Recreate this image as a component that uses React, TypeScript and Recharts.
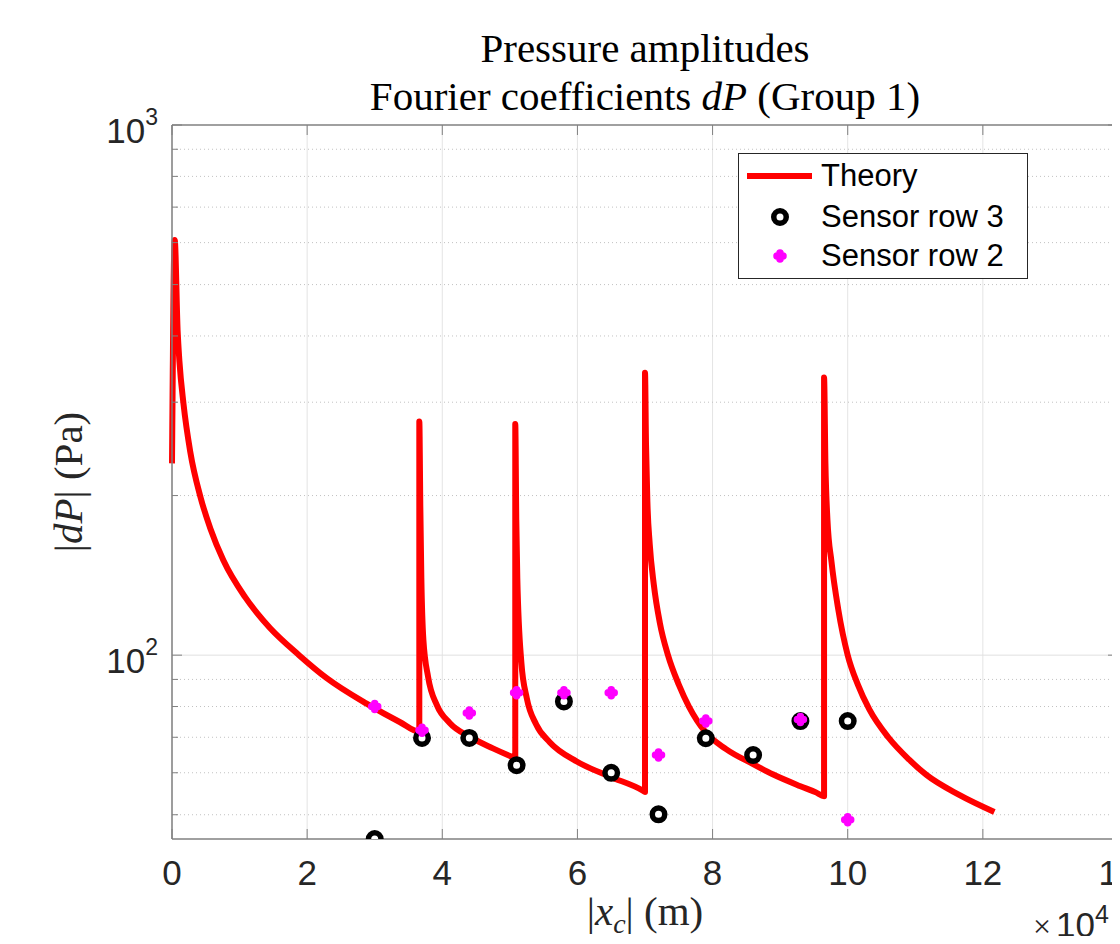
import React from "react";
import { ComposedChart, Line, Scatter, XAxis, YAxis, CartesianGrid, ReferenceLine, Legend } from "recharts";

// theory curve, x in units of 1e4 m (a repeated x is a vertical jump)
const theoryX = [
  0, 0.04, 0.083, 0.11, 0.17, 0.27, 0.42, 0.57, 0.76, 1.08, 1.26, 1.45, 1.88, 2.29, 2.88, 3.37, 3.66,
  3.66, 3.675, 3.69, 3.72, 3.79, 3.92, 4.11, 4.41, 4.75, 5.03, 5.08,
  5.08, 5.095, 5.11, 5.17, 5.25, 5.39, 5.59, 5.99, 6.48, 6.97, 7.0,
  7.0, 7.015, 7.035, 7.07, 7.13, 7.22, 7.34, 7.5, 7.65, 7.9, 8.2, 8.6, 8.89, 9.3, 9.53, 9.65,
  9.65, 9.67, 9.7, 9.76, 9.86, 10.0, 10.15, 10.32, 10.6, 10.91, 11.16, 11.65, 12.17,
];
const theoryP = [
  230, 607, 410, 358, 298, 242, 199, 173, 151, 128.8, 120, 112.5, 100, 90.5, 81, 74.8, 71.7,
  276, 190, 140, 107, 91, 80.5, 74.5, 70.1, 66.7, 64.3, 63.9,
  273, 180, 140, 97, 83, 74, 68.5, 63, 59, 55.5, 55.2,
  341, 250, 195, 162, 136, 115, 100, 88, 80, 71.5, 66.5, 62.3, 59.6, 56.6, 55.1, 54.2,
  334, 230, 180, 150, 122, 100, 88, 79, 70, 63.5, 59.5, 54.5, 50.6,
];

const row3X = [3.0, 3.7, 4.4, 5.1, 5.8, 6.5, 7.2, 7.9, 8.6, 9.3, 10.0];
const row3P = [45, 69.8, 69.8, 62, 81.8, 60, 50.1, 69.7, 64.8, 75.1, 75.1];

const row2X = [3.0, 3.7, 4.4, 5.1, 5.8, 6.5, 7.2, 7.9, 9.3, 10.0];
const row2P = [80, 72.2, 77.8, 84.9, 84.9, 84.9, 64.8, 75.1, 75.6, 48.9];

const xTicks = [0, 2, 4, 6, 8, 10, 12, 14];
const yMajor = [100, 1000];
const yMinor = [50, 60, 70, 80, 90, 200, 300, 400, 500, 600, 700, 800, 900];
const yTicks = [...yMinor.slice(0, 5), 100, ...yMinor.slice(5), 1000];

const legendNames = ["Theory", "Sensor row 3", "Sensor row 2"];

const theoryData = theoryX.map((x, i) => ({ x, v: theoryP[i] }));
const row3Data = row3X.map((x, i) => ({ x, v: row3P[i] }));
const row2Data = row2X.map((x, i) => ({ x, v: row2P[i] }));

const W = 1120;
const H = 944;
const M = { top: 125, right: 2, bottom: 0, left: 0 };
const Y_W = 172;
const X_H = 105;
const PLOT_W = W - M.left - M.right - Y_W;
const PLOT_H = H - M.top - M.bottom - X_H;

const SANS = "'Liberation Sans', Arial, Helvetica, sans-serif";
const SERIF = "'Liberation Serif', 'Times New Roman', serif";
const AXIS = "#808080";
const RED = "#ff0000";
const MAGENTA = "#ff00ff";

function Ring({ cx, cy }: any) {
  return <circle cx={cx} cy={cy} r={6.25} fill="#fff" stroke="#000" strokeWidth={5.5} />;
}

function Plus({ cx, cy }: any) {
  return (
    <path
      d={`M${cx - 3},${cy}H${cx + 3}M${cx},${cy - 3}V${cy + 3}`}
      stroke={MAGENTA}
      strokeWidth={7.5}
      strokeLinecap="round"
      fill="none"
    />
  );
}

function YTick({ x, y, payload }: any) {
  const v = payload.value;
  const major = yMajor.includes(v);
  const len = major ? 10 : 6;
  return (
    <g>
      <line x1={x} y1={y} x2={x + len} y2={y} stroke={AXIS} />
      <line x1={x + PLOT_W - len} y1={y} x2={x + PLOT_W} y2={y} stroke={AXIS} />
      {major && (
        <text x={x - 14} y={y + 18} textAnchor="end" fontFamily={SANS} fontSize={35} fill="#262626">
          10
          <tspan dy={-18} fontSize={23}>
            {Math.round(Math.log10(v))}
          </tspan>
        </text>
      )}
    </g>
  );
}

function XTick({ x, y, payload }: any) {
  return (
    <g>
      <line x1={x} y1={y} x2={x} y2={y - 10} stroke={AXIS} />
      <line x1={x} y1={y - PLOT_H} x2={x} y2={y - PLOT_H + 10} stroke={AXIS} />
      <text x={x} y={y + 46} textAnchor="middle" fontFamily={SANS} fontSize={35} fill="#262626">
        {payload.value}
      </text>
    </g>
  );
}

function XTitle(props: any) {
  const vb = props.viewBox || { x: Y_W, y: M.top + PLOT_H, width: PLOT_W };
  const cx = vb.x + vb.width / 2;
  return (
    <g>
      <text x={cx} y={vb.y + 86} textAnchor="middle" fontFamily={SERIF} fontSize={41} fill="#262626">
        |<tspan fontStyle="italic">x</tspan>
        <tspan fontStyle="italic" fontSize={28} dy={8}>c</tspan>
        <tspan dy={-8}>| (m)</tspan>
      </text>
      <text x={1033} y={vb.y + 98} fontFamily={SANS} fontSize={35} fill="#262626">
        <tspan fontFamily={SERIF} fontSize={32}>×</tspan>
        <tspan dx={5}>10</tspan>
        <tspan dy={-14} fontSize={25}>4</tspan>
      </text>
    </g>
  );
}

function YTitle(props: any) {
  const vb = props.viewBox || { x: 0, y: M.top, height: PLOT_H };
  const cx = vb.x + 68;
  const cy = vb.y + vb.height / 2;
  return (
    <text
      x={cx}
      y={cy}
      transform={`rotate(-90 ${cx} ${cy})`}
      textAnchor="middle"
      dominantBaseline="central"
      fontFamily={SERIF}
      fontSize={41}
      fill="#262626"
    >
      |<tspan fontStyle="italic">dP</tspan>| (Pa)
    </text>
  );
}

function LegendBox() {
  const rowTop = [2, 43, 82];
  return (
    <div
      style={{
        position: "relative",
        width: 288,
        height: 124,
        border: "1px solid #262626",
        background: "#fff",
        fontFamily: SANS,
        fontSize: 31,
        color: "#000",
      }}
    >
      {legendNames.map((name, i) => (
        <div key={name} style={{ position: "absolute", left: 0, top: rowTop[i], height: 40, width: 288 }}>
          <svg width={80} height={40} style={{ position: "absolute", left: 0, top: 0 }}>
            {i === 0 && <line x1={8} y1={20} x2={73} y2={20} stroke={RED} strokeWidth={6} />}
            {i === 1 && <Ring cx={41} cy={20} />}
            {i === 2 && <Plus cx={41} cy={20} />}
          </svg>
          <span style={{ position: "absolute", left: 82, top: 1, lineHeight: "38px", whiteSpace: "nowrap" }}>{name}</span>
        </div>
      ))}
    </div>
  );
}

export default function App() {
  return (
    <div style={{ position: "relative", width: W, height: H, margin: -8, background: "#fff", overflow: "hidden" }}>
      <svg width={W} height={120} style={{ position: "absolute", left: 0, top: 0, pointerEvents: "none" }}>
        <text x={Y_W + PLOT_W / 2} y={62} textAnchor="middle" fontFamily={SERIF} fontSize={41} fill="#000">
          Pressure amplitudes
        </text>
        <text x={Y_W + PLOT_W / 2} y={110} textAnchor="middle" fontFamily={SERIF} fontSize={41} fill="#000">
          Fourier coefficients <tspan fontStyle="italic">dP</tspan> (Group 1)
        </text>
      </svg>
      <div style={{ position: "absolute", left: 0, top: 0 }}>
        <ComposedChart width={W} height={H} margin={M}>
          <CartesianGrid horizontal={false} stroke="#e4e4e4" />
          {yMinor.map((v) => (
            <ReferenceLine key={v} y={v} stroke="#c2c2c2" strokeDasharray="1 3" />
          ))}
          <ReferenceLine y={100} stroke="#e0e0e0" />
          <ReferenceLine y={1000} stroke={AXIS} strokeWidth={1.5} />
          <ReferenceLine x={14} stroke={AXIS} strokeWidth={1.5} />
          <XAxis
            type="number"
            dataKey="x"
            domain={[0, 14]}
            ticks={xTicks}
            interval={0}
            height={X_H}
            tickSize={0}
            tickMargin={0}
            tickLine={false}
            tick={<XTick />}
            axisLine={{ stroke: AXIS, strokeWidth: 1.5 }}
            label={{ content: XTitle }}
          />
          <YAxis
            type="number"
            dataKey="v"
            scale="log"
            domain={[45, 1000]}
            allowDataOverflow
            ticks={yTicks}
            interval={0}
            width={Y_W}
            tickSize={0}
            tickMargin={0}
            tickLine={false}
            tick={<YTick />}
            axisLine={{ stroke: AXIS, strokeWidth: 1.5 }}
            label={{ content: YTitle }}
          />
          <Legend
            layout="vertical"
            align="center"
            verticalAlign="middle"
            content={() => <LegendBox />}
            wrapperStyle={{ left: 738, top: 153, width: 290, height: 126 }}
          />
          <Line
            data={theoryData}
            dataKey="v"
            type="monotone"
            stroke={RED}
            strokeWidth={6}
            strokeLinejoin="round"
            dot={false}
            activeDot={false}
            isAnimationActive={false}
            name="Theory"
          />
          <Scatter data={row3Data} dataKey="v" shape={<Ring />} isAnimationActive={false} name="Sensor row 3" />
          <Scatter data={row2Data} dataKey="v" shape={<Plus />} isAnimationActive={false} name="Sensor row 2" />
        </ComposedChart>
      </div>
    </div>
  );
}
